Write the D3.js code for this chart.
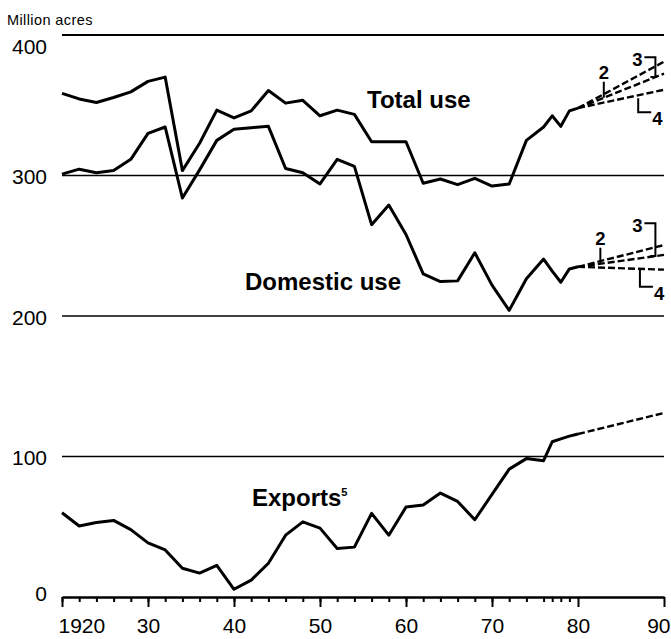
<!DOCTYPE html>
<html>
<head>
<meta charset="utf-8">
<script src="https://cdn.jsdelivr.net/npm/d3@7"></script>
<style>
  body { margin: 0; background: #fff; }
  svg { display: block; font-family: "Liberation Sans", Arial, Helvetica, sans-serif; }
</style>
</head>
<body>
<svg width="671" height="639"></svg>
<script>
// values (million acres)
const years = [1920, 1922, 1924, 1926, 1928, 1930, 1932, 1934, 1936, 1938, 1940, 1942, 1944, 1946, 1948,
  1950, 1952, 1954, 1956, 1958, 1960, 1962, 1964, 1966, 1968, 1970, 1972, 1974, 1976, 1977, 1978, 1979, 1980];
const totalUse = [358.5, 354.5, 352, 355.5, 359.5, 367, 370, 303.5, 323, 346.5, 341, 346, 360.5, 351.5, 353.5,
  342.5, 346.5, 343.5, 324, 324, 324, 294.5, 297.5, 293.5, 298, 292.5, 294, 325, 334.5, 342.5, 335, 346, 348];
const domesticUse = [301, 304.5, 302, 303.5, 311.5, 330, 334.5, 284, 304, 325, 333, 334, 335, 305, 302,
  294, 311.5, 306.5, 265, 279, 258, 230, 224.5, 225, 245, 222, 204, 226.5, 240.5, 232, 224, 233.5, 235];
const exportsUse = [60, 50.5, 53, 54.5, 48, 38.5, 33.5, 20.5, 17, 22.5, 5.5, 12, 24, 44, 53.5,
  49, 34.5, 35.5, 59.5, 44, 64, 65.5, 74, 68, 55, 73, 91, 98.5, 97, 110.5, 112.5, 114.5, 116];

// projections 1980 -> 1990 (upper "3", middle "2", lower "4")
const projYears = [1980, 1990];
const totalProj = { up: [348, 381], mid: [348, 372.5], low: [348, 361] };
const domesticProj = { up: [235, 250.5], mid: [235, 243.5], low: [235, 233] };
const exportsProj = [116, 131];

const gridValues = [100, 200, 300, 400];
const yTickValues = [0, 100, 200, 300, 400];
const minorYears = d3.range(1920, 1977, 2).concat([1977, 1978, 1979]);
const majorYears = [1920, 1930, 1940, 1950, 1960, 1970, 1980, 1990];
const xTickLabels = ['1920', '30', '40', '50', '60', '70', '80', '90'];

const svg = d3.select('svg');
const x = d3.scaleLinear().domain([1920, 1990]).range([62, 664]);
const y = d3.scaleLinear().domain([0, 400]).range([597, 35]);

const line = d3.line().x(d => x(d[0])).y(d => y(d[1]));

// gridlines
svg.selectAll('line.grid')
  .data(gridValues)
  .enter()
  .append('line')
  .attr('class', 'grid')
  .attr('x1', x(1920))
  .attr('x2', x(1990))
  .attr('y1', d => y(d))
  .attr('y2', d => y(d))
  .attr('stroke', '#000')
  .attr('stroke-width', d => (d === 400 ? 2 : 1.6));

// y labels (400 pushed down under the unit label)
svg.selectAll('text.ylab')
  .data(yTickValues)
  .enter()
  .append('text')
  .attr('class', 'ylab')
  .attr('x', 47)
  .attr('y', d => y(d) + (d === 400 ? 11 : d === 0 ? -4 : 1))
  .attr('dy', '0.36em')
  .attr('text-anchor', 'end')
  .attr('font-size', 21)
  .text(d => d);

svg.append('text')
  .attr('x', 7)
  .attr('y', 25)
  .attr('font-size', 14.5)
  .attr('letter-spacing', 0.4)
  .text('Million acres');

// x axis: minor ticks hang 5px, decade ticks 10px
const minorAxis = d3.axisBottom(x).tickValues(minorYears).tickSize(5).tickSizeOuter(0).tickFormat('');
const majorAxis = d3.axisBottom(x).tickValues(majorYears).tickSize(10).tickSizeOuter(0)
  .tickPadding(11).tickFormat((d, i) => xTickLabels[i]);

const gMinor = svg.append('g').attr('transform', `translate(0,${y(0)})`).call(minorAxis);
const gMajor = svg.append('g').attr('transform', `translate(0,${y(0)})`).call(majorAxis);
[gMinor, gMajor].forEach(g => {
  g.select('.domain').attr('stroke-width', 2.2);
  g.selectAll('.tick line').attr('stroke-width', 2);
});
gMajor.selectAll('.tick text')
  .attr('font-size', 21)
  .attr('font-family', '"Liberation Sans", Arial, Helvetica, sans-serif')
  .attr('fill', '#000')
  .attr('text-anchor', (d, i) => (i === 0 ? 'start' : i === majorYears.length - 1 ? 'end' : 'middle'))
  .attr('dx', (d, i) => (i === 0 ? -4 : i === majorYears.length - 1 ? 6 : 0));

// history lines
[totalUse, domesticUse, exportsUse].forEach(vals => {
  svg.append('path')
    .attr('d', line(years.map((yr, i) => [yr, vals[i]])))
    .attr('fill', 'none')
    .attr('stroke', '#000')
    .attr('stroke-width', 3)
    .attr('stroke-linejoin', 'round');
});

// dashed projections
function projPath(vals) {
  svg.append('path')
    .attr('d', line(projYears.map((yr, i) => [yr, vals[i]])))
    .attr('fill', 'none')
    .attr('stroke', '#000')
    .attr('stroke-width', 2.4)
    .attr('stroke-dasharray', '7,3');
}
[totalProj, domesticProj].forEach(p => { projPath(p.up); projPath(p.mid); projPath(p.low); });
projPath(exportsProj);

// value on a projection line at a given year
function at(vals, yr) {
  return vals[0] + (vals[1] - vals[0]) * (yr - projYears[0]) / (projYears[1] - projYears[0]);
}

// numbered callouts: 2 = tick on middle line, 3 = bracket over upper pair, 4 = hook under lower line
function callouts(p, opt) {
  const g = svg.append('g').attr('fill', 'none').attr('stroke', '#000').attr('stroke-width', 2);
  const t = svg.append('g').attr('font-size', 18.5).attr('font-weight', 'bold').attr('fill', '#000');

  const x2 = x(opt.yr2), y2 = y(at(p.mid, opt.yr2));
  g.append('path').attr('d', `M${x2},${y2}V${y2 - 16}`);
  t.append('text').attr('x', x2).attr('y', y2 - 19).attr('text-anchor', 'middle').text('2');

  const x3 = x(1989), top3 = y(at(p.up, 1989)) - opt.rise3, bot3 = y(at(p.mid, 1989));
  g.append('path').attr('d', `M${x3 - 11},${top3}H${x3}V${bot3}H${x3 - 5}`);
  t.append('text').attr('x', x3 - 18).attr('y', top3 + 9).attr('text-anchor', 'middle').text('3');

  const x4 = x(opt.yr4), top4 = y(at(p.low, opt.yr4)) + opt.gap4;
  g.append('path').attr('d', `M${x4},${top4}V${top4 + opt.len4}H${x4 + 13}`);
  t.append('text').attr('x', x4 + 14).attr('y', top4 + opt.len4 + 13).text('4');
}
callouts(totalProj, { yr2: 1983, rise3: 9, yr4: 1987, gap4: 3, len4: 14 });
callouts(domesticProj, { yr2: 1982.6, rise3: 24, yr4: 1987.2, gap4: 1, len4: 17 });

// series labels
const labels = svg.append('g').attr('font-size', 24).attr('font-weight', 'bold');
labels.append('text').attr('x', 367).attr('y', 108).text('Total use');
labels.append('text').attr('x', 245).attr('y', 290).text('Domestic use');
const ex = labels.append('text').attr('x', 252).attr('y', 506).text('Exports');
ex.append('tspan').attr('font-size', 11).attr('dy', -10).text('5');
</script>
</body>
</html>
